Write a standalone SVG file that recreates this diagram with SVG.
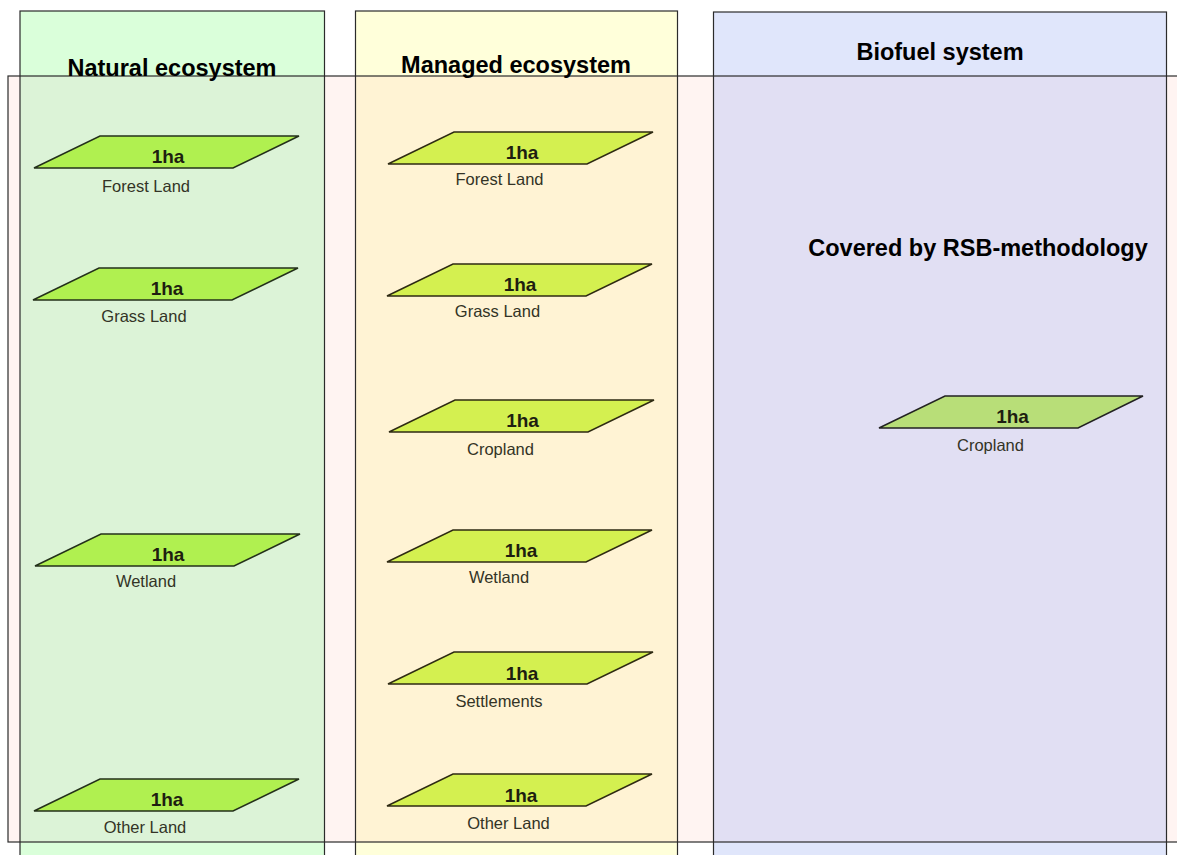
<svg xmlns="http://www.w3.org/2000/svg" width="1177" height="855" viewBox="0 0 1177 855">
<style>
.title{font-family:"Liberation Sans",Arial,sans-serif;font-weight:bold;font-size:23.5px;fill:#000;text-anchor:middle}
.ha{font-family:"Liberation Sans",Arial,sans-serif;font-weight:bold;font-size:19px;fill:#1e1e10;text-anchor:middle}
.lbl{font-family:"Liberation Sans",Arial,sans-serif;font-size:16.5px;fill:#333326;text-anchor:middle}
.outline{fill:none;stroke:#2b2b2b;stroke-width:1.2}
.pn{fill:#b0f050;stroke:#23301a;stroke-width:1.5;stroke-linejoin:miter}
.pm{fill:#d4f050;stroke:#2e2a12;stroke-width:1.5}
.pb{fill:#b8de78;stroke:#222;stroke-width:1.5}
</style>
<rect width="1177" height="855" fill="#fff"/>
<g id="backgrounds">
<rect x="20" y="11" width="304.5" height="860" fill="#daffda"/>
<rect x="355.5" y="11" width="322" height="860" fill="#ffffda"/>
<rect x="713.5" y="12" width="453" height="860" fill="#e0e6fb"/>
<rect x="8" y="76" width="1180" height="766" fill="#fff4f2"/>
<rect x="20" y="76" width="304.5" height="766" fill="#dcf3d7"/>
<rect x="355.5" y="76" width="322" height="766" fill="#fff3d4"/>
<rect x="713.5" y="76" width="453" height="766" fill="#e1dff3"/>
</g>
<g id="frames">
<rect class="outline" x="20" y="11" width="304.5" height="860"/>
<rect class="outline" x="355.5" y="11" width="322" height="860"/>
<rect class="outline" x="713.5" y="12" width="453" height="860"/>
<rect class="outline" x="8" y="76" width="1180" height="766" stroke-width="1.5"/>
</g>
<g id="col-natural">
<text class="title" x="172" y="76">Natural ecosystem</text>
</g>
<g id="col-managed">
<text class="title" x="516" y="73">Managed ecosystem</text>
</g>
<g id="col-biofuel">
<text class="title" x="940" y="60">Biofuel system</text>
<text class="title" x="978" y="256">Covered by RSB-methodology</text>
</g>
<g id="n-forest">
<path class="pn" d="M34,168 L100,136 L299,136 L233,168 Z"/>
<text class="ha" x="168" y="163">1ha</text>
<text class="lbl" x="146" y="191.5">Forest Land</text>
</g>
<g id="n-grass">
<path class="pn" d="M33,300 L99,268 L298,268 L232,300 Z"/>
<text class="ha" x="167" y="295">1ha</text>
<text class="lbl" x="144" y="321.5">Grass Land</text>
</g>
<g id="n-wetland">
<path class="pn" d="M35,566 L101,534 L300,534 L234,566 Z"/>
<text class="ha" x="168" y="561">1ha</text>
<text class="lbl" x="146" y="587">Wetland</text>
</g>
<g id="n-other">
<path class="pn" d="M34,811 L100,779 L299,779 L233,811 Z"/>
<text class="ha" x="167" y="806">1ha</text>
<text class="lbl" x="145" y="832.5">Other Land</text>
</g>
<g id="m-forest">
<path class="pm" d="M388,164 L454,132 L653,132 L587,164 Z"/>
<text class="ha" x="522" y="159">1ha</text>
<text class="lbl" x="499.5" y="185">Forest Land</text>
</g>
<g id="m-grass">
<path class="pm" d="M387,296 L453,264 L652,264 L586,296 Z"/>
<text class="ha" x="520" y="291">1ha</text>
<text class="lbl" x="497.5" y="317">Grass Land</text>
</g>
<g id="m-cropland">
<path class="pm" d="M389,432 L455,400 L654,400 L588,432 Z"/>
<text class="ha" x="522.5" y="427">1ha</text>
<text class="lbl" x="500.5" y="455">Cropland</text>
</g>
<g id="m-wetland">
<path class="pm" d="M387,562 L453,530 L652,530 L586,562 Z"/>
<text class="ha" x="521" y="557">1ha</text>
<text class="lbl" x="499" y="583">Wetland</text>
</g>
<g id="m-settlements">
<path class="pm" d="M388,684 L454,652 L653,652 L587,684 Z"/>
<text class="ha" x="522" y="680">1ha</text>
<text class="lbl" x="499" y="707">Settlements</text>
</g>
<g id="m-other">
<path class="pm" d="M387,806 L453,774 L652,774 L586,806 Z"/>
<text class="ha" x="521" y="802">1ha</text>
<text class="lbl" x="508.5" y="829">Other Land</text>
</g>
<g id="b-cropland">
<path class="pb" d="M879,428 L945,396 L1143,396 L1078,428 Z"/>
<text class="ha" x="1012.5" y="423">1ha</text>
<text class="lbl" x="990.5" y="451">Cropland</text>
</g>
<g id="connectors"/>
</svg>
